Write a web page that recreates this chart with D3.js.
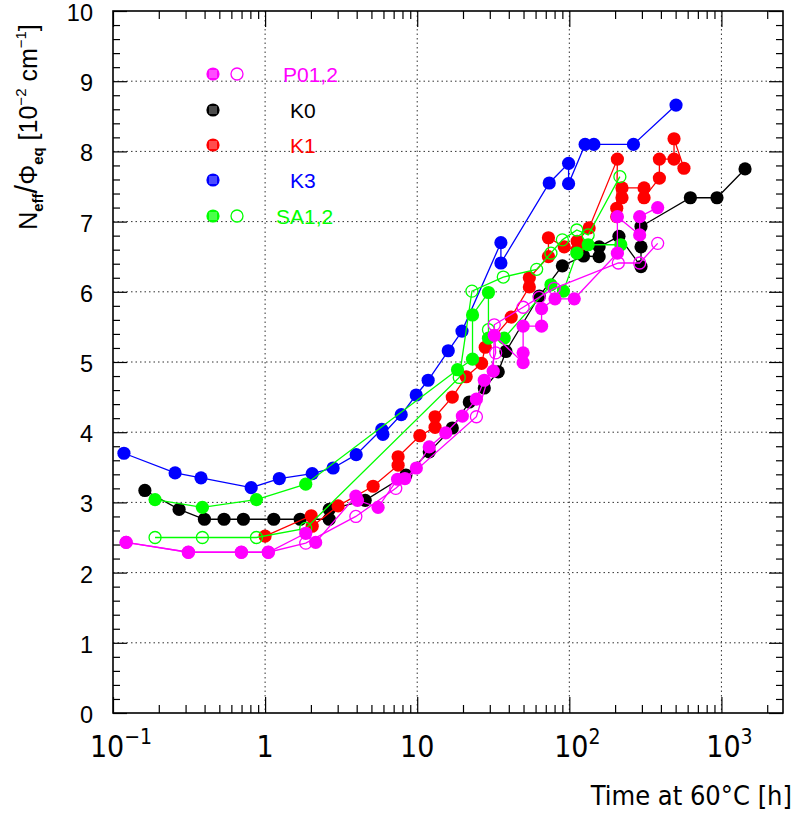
<!DOCTYPE html>
<html><head><meta charset="utf-8">
<script src="https://cdn.jsdelivr.net/npm/d3@7"></script>
<style>body{margin:0;background:#fff}</style>
</head><body>
<svg id="chart" width="798" height="816"></svg>
<script>
// ---- data (time in h, Neff/Phi_eq in 1e-2 cm^-1) ----
const legendLabels = ["P01,2", "K0", "K1", "K3", "SA1,2"];
const xTickValues = [0.1, 1, 10, 100, 1000];
const xTickLabels = [["10", "-1"], ["1", ""], ["10", ""], ["10", "2"], ["10", "3"]];
const yTickValues = [0, 1, 2, 3, 4, 5, 6, 7, 8, 9, 10];

const K3 = [[0.118,3.70],[0.256,3.42],[0.379,3.35],[0.81,3.21],[1.24,3.34],[2.04,3.41],[2.8,3.49],[3.97,3.68],[5.85,4.04],[5.95,3.97],[7.85,4.25],[9.85,4.53],[11.8,4.74],[16,5.16],[19.7,5.44],[35.5,6.70],[35.5,6.41],[73.8,7.55],[98.9,7.83],[98.9,7.54],[127,8.10],[145,8.10],[264,8.10],[503,8.66]];
const K0 = [[0.162,3.17],[0.272,2.90],[0.399,2.76],[0.537,2.76],[0.72,2.76],[1.14,2.76],[1.70,2.76],[2.64,2.76],[2.64,2.90],[4.55,3.03],[8.43,3.39],[12,3.72],[17,4.06],[22,4.43],[27.6,4.63],[34.1,4.86],[38.3,5.15],[63.5,5.94],[90,6.37],[124,6.51],[157,6.50],[157,6.64],[212,6.79],[296,6.36],[296,6.64],[296,6.93],[625,7.34],[935,7.34],[1430,7.75]];
const K1 = [[1.0,2.52],[2.01,2.81],[2.04,2.66],[3.02,2.95],[5.13,3.23],[7.49,3.53],[7.49,3.65],[10.4,3.95],[13.1,4.07],[13.1,4.22],[17,4.50],[21,4.79],[26.5,4.98],[28,5.21],[41.5,5.64],[54.6,6.07],[54.6,6.20],[72.9,6.50],[72.9,6.77],[92.6,6.64],[112.6,6.60],[112.6,6.72],[135,6.91],[207,7.89],[205,7.19],[205,7.07],[222,7.34],[222,7.48],[310,7.48],[310,7.34],[391,7.62],[391,7.89],[488,7.89],[488,8.18],[567,7.76]];
const SA_filled = [[0.189,3.04],[0.387,2.93],[0.877,3.04],[1.85,3.26],[18.4,4.89],[23.1,5.04],[23.1,5.67],[29.4,5.99],[29.4,5.34],[37.3,5.34],[75.7,6.10],[91.5,6.01],[112,6.55],[133,6.67],[218,6.67]];
const SA_open = [[0.189,2.50],[0.387,2.50],[0.877,2.50],[1.85,2.63],[18.9,4.78],[22.9,6.01],[36.8,6.21],[61,6.32],[75.7,6.55],[90,6.74],[112,6.88],[133,6.81],[215,7.64]];
const SA_open_extra = [[29.4,5.46]];
const P01_filled = [[0.122,2.43],[0.313,2.29],[0.698,2.29],[1.05,2.29],[1.85,2.56],[2.15,2.43],[3.95,3.09],[4.05,3.03],[5.53,2.93],[7.43,3.33],[8.3,3.34],[9.87,3.49],[12,3.79],[15.4,3.99],[19.8,4.23],[24.5,4.47],[27.6,4.74],[31.6,4.87],[32.1,5.38],[49.7,4.99],[49.7,5.13],[49.7,5.51],[65.7,5.51],[65.7,5.76],[80.5,5.90],[107.8,5.90],[207,6.55],[207,7.07],[290,6.81],[290,7.07],[381,7.20]];
const P02_open = [[0.122,2.43],[0.313,2.29],[0.698,2.29],[1.05,2.29],[1.85,2.42],[3.95,2.80],[7.23,3.20],[24.5,4.22],[32.8,5.13],[32.1,5.53],[49.7,5.78],[63.3,5.92],[79.6,6.05],[210,6.41],[290,6.41],[381,6.69]];

const MAG = "#ff00ff", BLK = "#000000", RED = "#ff0000", BLU = "#0000ff", GRN = "#00ff00";
const series = [
  {data: K3, color: BLU, open: false},
  {data: K0, color: BLK, open: false},
  {data: K1, color: RED, open: false},
  {data: SA_open, color: GRN, open: true},
  {data: SA_open_extra, color: GRN, open: true},
  {data: SA_filled, color: GRN, open: false},
  {data: P02_open, color: MAG, open: true},
  {data: P01_filled, color: MAG, open: false}
];
const legendColors = [MAG, BLK, RED, BLU, GRN];
const legendOpen = [true, false, false, false, true];

// ---- layout ----
const L = 113, R = 783, T = 11, B = 713;
const svg = d3.select("#chart");
const x = d3.scaleLog().domain([0.1, 2540]).range([L, R]);
const y = d3.scaleLinear().domain([0, 10]).range([B, T]);

// grid
const gridV = [1, 10, 100, 1000];
svg.append("g").selectAll("line").data(gridV).join("line")
  .attr("x1", d => x(d)).attr("x2", d => x(d)).attr("y1", T).attr("y2", B)
  .attr("stroke", "#333").attr("stroke-width", 1).attr("stroke-dasharray", "1.5,3");
svg.append("g").selectAll("line").data(yTickValues.slice(1, -1)).join("line")
  .attr("x1", L).attr("x2", R).attr("y1", d => y(d)).attr("y2", d => y(d))
  .attr("stroke", "#333").attr("stroke-width", 1).attr("stroke-dasharray", "1.5,3");

// ticks
const xMinor = [];
for (let e = -1; e <= 3; e++) for (let m = 2; m <= 9; m++) { const v = m * Math.pow(10, e); if (v < 2540) xMinor.push(v); }
const yMinor = d3.range(0, 10.001, 0.2).filter(v => Math.abs(v - Math.round(v)) > 0.01);

function tickGroup(axis, tx, ty) {
  const g = svg.append("g").attr("transform", `translate(${tx},${ty})`).call(axis);
  g.select(".domain").remove();
  g.selectAll("text").remove();
  g.selectAll("line").attr("stroke", "#000").attr("stroke-width", 1.2);
  return g;
}
tickGroup(d3.axisBottom(x).tickValues(xTickValues).tickSize(-16), 0, B);
tickGroup(d3.axisBottom(x).tickValues(xMinor).tickSize(-8), 0, B);
tickGroup(d3.axisTop(x).tickValues(xTickValues).tickSize(-16), 0, T);
tickGroup(d3.axisTop(x).tickValues(xMinor).tickSize(-8), 0, T);
tickGroup(d3.axisLeft(y).tickValues(yTickValues).tickSize(-14), L, 0);
tickGroup(d3.axisLeft(y).tickValues(yMinor).tickSize(-7), L, 0);
tickGroup(d3.axisRight(y).tickValues(yTickValues).tickSize(-14), R, 0);
tickGroup(d3.axisRight(y).tickValues(yMinor).tickSize(-7), R, 0);

// frame
svg.append("rect").attr("x", L).attr("y", T).attr("width", R - L).attr("height", B - T)
  .attr("fill", "none").attr("stroke", "#000").attr("stroke-width", 1.6);

// y tick labels
svg.append("g").selectAll("text").data(yTickValues).join("text")
  .attr("x", 93).attr("y", d => y(d) + 10)
  .attr("text-anchor", "end").attr("font-family", "Liberation Sans, Arial, sans-serif")
  .attr("font-size", 23.5).text(d => d);

// x tick labels
const xl = svg.append("g").attr("font-family", "'Liberation Sans Narrow', 'DejaVu Sans Condensed', 'Liberation Sans', sans-serif")
  .attr("font-size", 30);
xTickValues.forEach((v, i) => {
  const [base, sup] = xTickLabels[i];
  const t = xl.append("text").attr("x", x(v) + (sup ? 8 : 0)).attr("y", 757).attr("text-anchor", "middle");
  t.append("tspan").text(base);
  if (sup) t.append("tspan").attr("font-size", 21).attr("dy", -13).text(sup.replace("-", "\u2212"));
});

// axis titles
svg.append("text").attr("x", 792).attr("y", 805).attr("text-anchor", "end")
  .attr("font-family", "'Liberation Sans Narrow', 'DejaVu Sans Condensed', 'Liberation Sans', sans-serif")
  .attr("font-size", 27).text("Time at 60\u00B0C [h]");

const yt = svg.append("text").attr("transform", "translate(37,127) rotate(-90)")
  .attr("text-anchor", "middle").attr("font-family", "Liberation Sans, Arial, sans-serif").attr("font-size", 25);
yt.append("tspan").text("N");
yt.append("tspan").attr("font-size", 15).attr("font-weight", "bold").attr("dy", 6).text("eff");
yt.append("tspan").attr("dy", -6).attr("font-size", 31).text("/");
yt.append("tspan").text("\u03A6");
yt.append("tspan").attr("font-size", 15).attr("font-weight", "bold").attr("dy", 6).text("eq");
yt.append("tspan").attr("dy", -6).text(" [10");
yt.append("tspan").attr("font-size", 15).attr("dy", -11).text("\u22122");
yt.append("tspan").attr("dy", 11).text(" cm");
yt.append("tspan").attr("font-size", 15).attr("dy", -11).text("\u22121");
yt.append("tspan").attr("dy", 11).text("]");

// data
const line = d3.line().x(d => x(d[0])).y(d => y(d[1]));
const r = 6.6;
series.forEach(s => {
  const g = svg.append("g");
  g.append("path").attr("d", line(s.data)).attr("fill", "none").attr("stroke", s.color).attr("stroke-width", 1.3);
  g.selectAll("circle").data(s.data).join("circle")
    .attr("cx", d => x(d[0])).attr("cy", d => y(d[1])).attr("r", s.open ? r - 0.6 : r)
    .attr("fill", s.open ? "none" : s.color).attr("stroke", s.color).attr("stroke-width", s.open ? 1.3 : 0);
});

// legend
const legY = [74, 110, 145, 180, 216];
const legTextX = [283, 290, 290, 290, 276];
legendLabels.forEach((lab, i) => {
  const g = svg.append("g");
  g.append("circle").attr("cx", 213).attr("cy", legY[i]).attr("r", r).attr("fill", legendColors[i]);
  [-3, -1, 1, 3].forEach(dx => g.append("line").attr("x1", 213 + dx).attr("x2", 213 + dx)
    .attr("y1", legY[i] - 4).attr("y2", legY[i] + 4).attr("stroke", "#fff").attr("stroke-width", 0.6));
  if (legendOpen[i]) g.append("circle").attr("cx", 237).attr("cy", legY[i]).attr("r", r - 0.6)
    .attr("fill", "none").attr("stroke", legendColors[i]).attr("stroke-width", 1.3);
  g.append("text").attr("x", legTextX[i]).attr("y", legY[i] + 8).attr("fill", legendColors[i])
    .attr("font-family", "Liberation Sans, Arial, sans-serif").attr("font-size", 21).text(lab);
});
</script>
</body></html>
